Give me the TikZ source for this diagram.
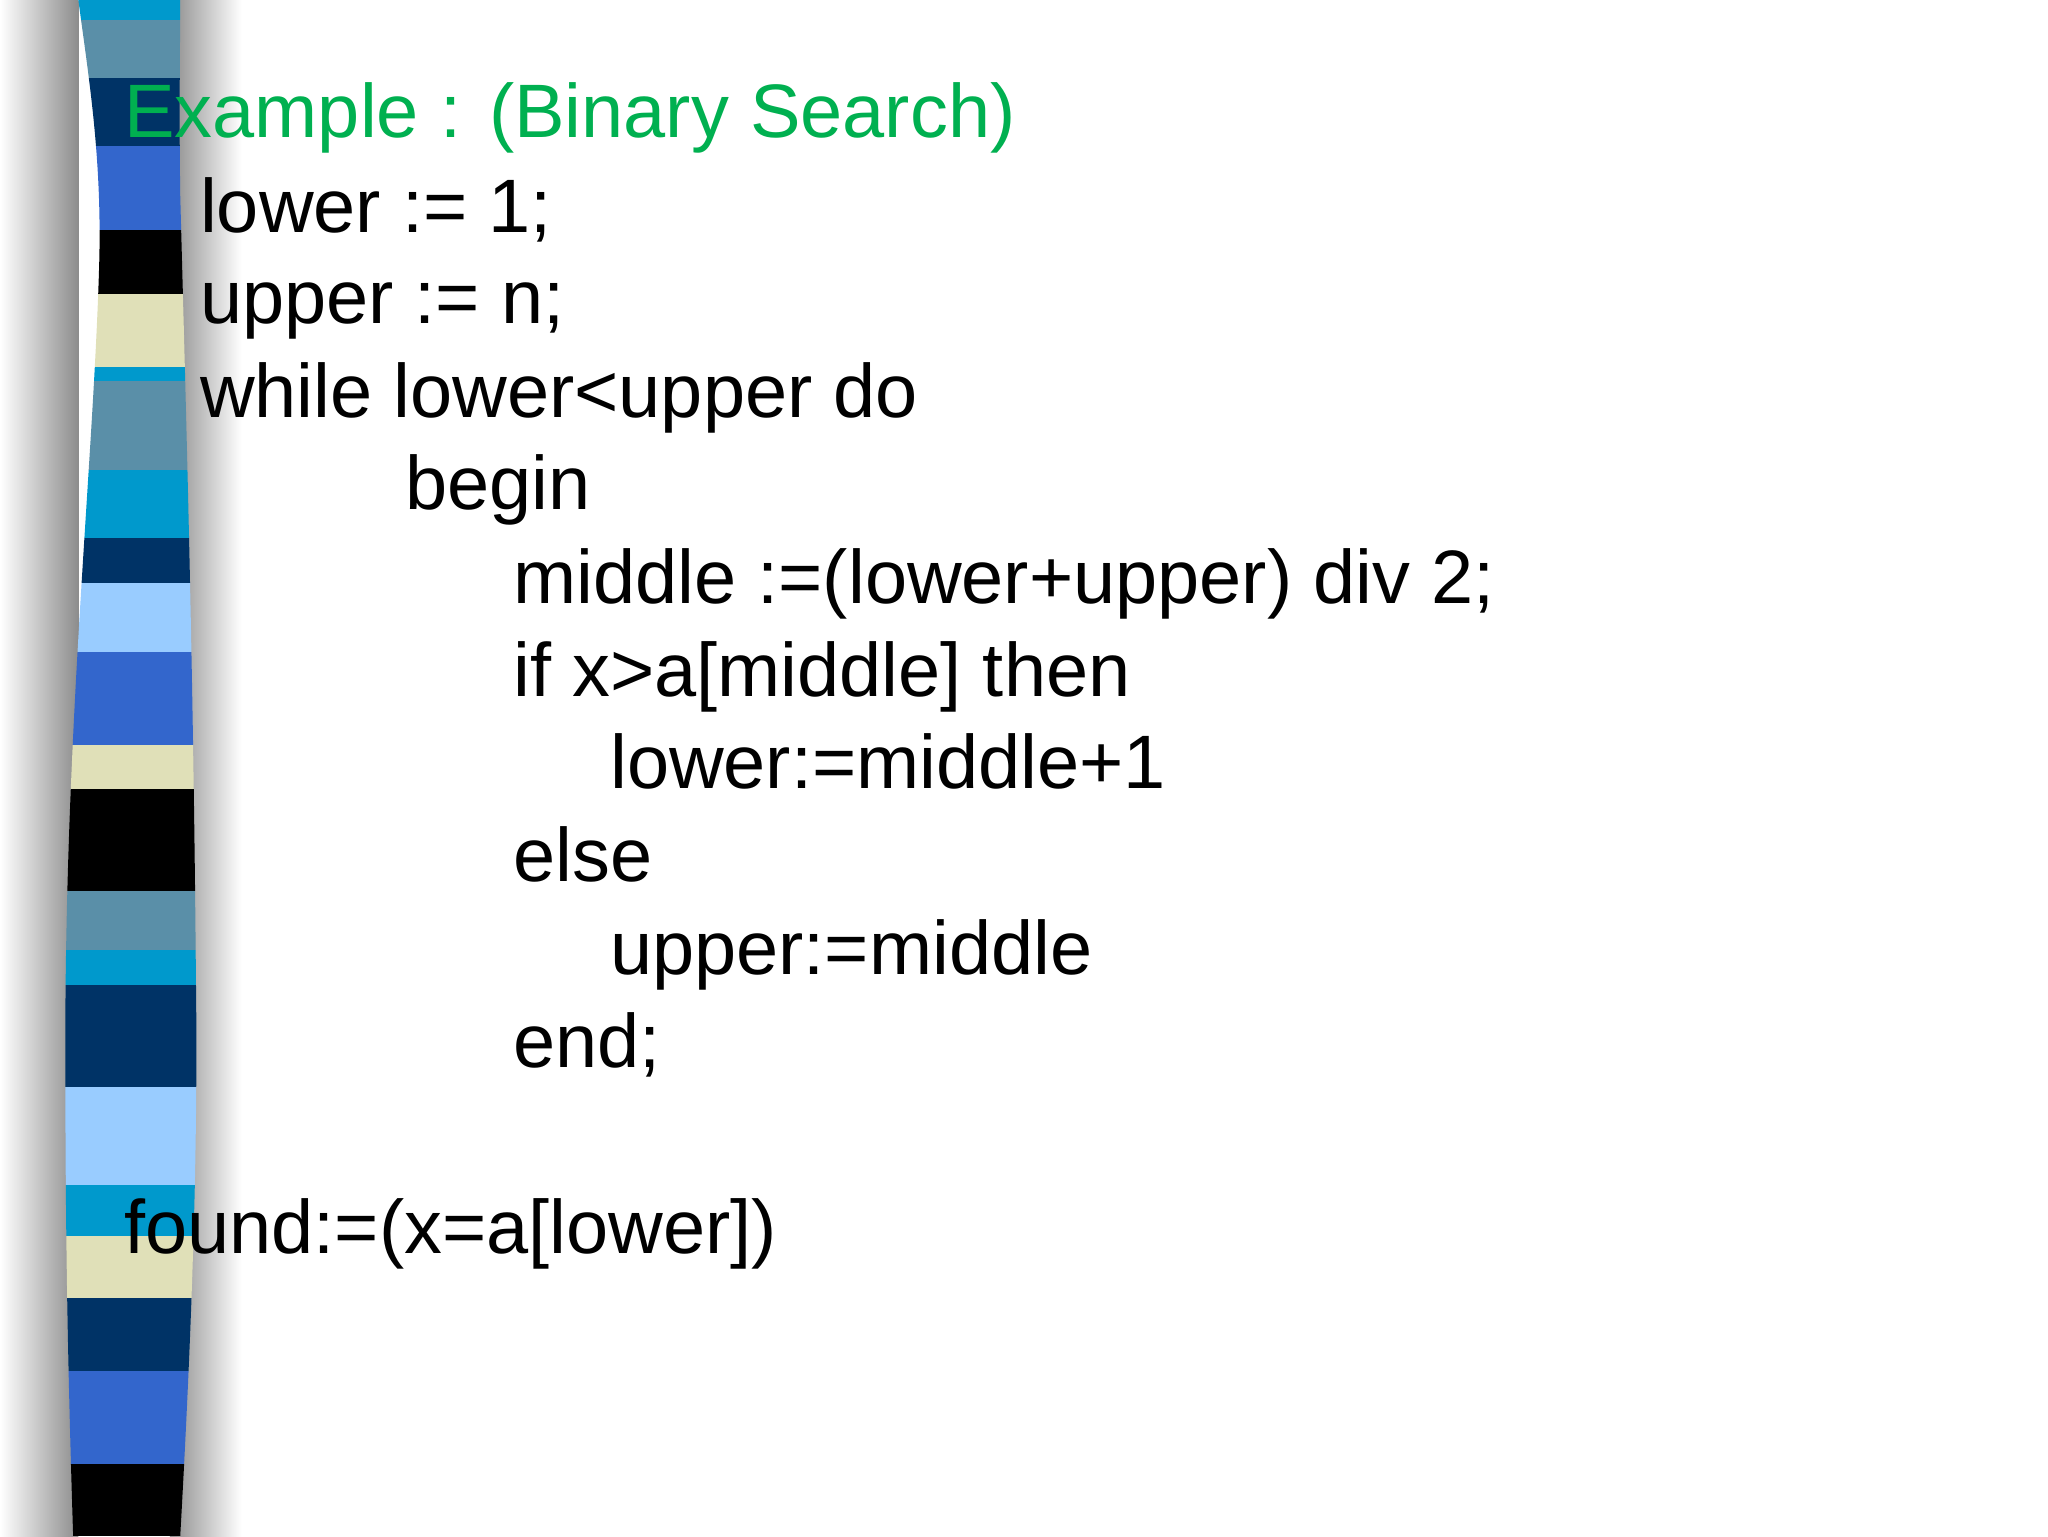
\documentclass[tikz,border=0pt]{standalone}
\usepackage{fontspec}
\setmainfont{Liberation Sans}
\definecolor{cyanb}{HTML}{0099CC}
\definecolor{steel}{HTML}{5A8FA8}
\definecolor{navy}{HTML}{003366}
\definecolor{royal}{HTML}{3366CC}
\definecolor{beige}{HTML}{E0E0B8}
\definecolor{lightb}{HTML}{99CCFF}
\definecolor{titlegreen}{HTML}{00B050}
\begin{document}
\begin{tikzpicture}[x=1pt,y=-1pt,
  code/.style={anchor=base west,inner sep=0pt,font=\fontsize{58}{70}\selectfont}]
\useasboundingbox (0,0) rectangle (1568,1176);
\fill[white] (0,0) rectangle (1568,1176);
% shadows
\shade[left color=white,right color=black!45] (0,0) rectangle (60,1176);
\shade[left color=black!45,right color=white] (130,0) rectangle (185,1176);
\begin{scope}
\clip (60,0) .. controls (68,60) and (78,120) .. (76,200)
  .. controls (72,350) and (50,550) .. (50,800)
  .. controls (50,950) and (52,1050) .. (56,1176)
  -- (138,1176) .. controls (145,1050) and (152,900) .. (150,750)
  .. controls (148,500) and (142,300) .. (138,150)
  .. controls (137,80) and (138,30) .. (138,0) -- cycle;
\foreach \a/\b/\c in {0/15/cyanb,15/60/steel,60/112/navy,112/176/royal,176/225/black,225/281/beige,281/292/cyanb,292/360/steel,360/412/cyanb,412/446/navy,446/499/lightb,499/570/royal,570/604/beige,604/682/black,682/727/steel,727/754/cyanb,754/832/navy,832/907/lightb,907/946/cyanb,946/994/beige,994/1050/navy,1050/1121/royal,1121/1176/black}
  \fill[\c] (40,\a) rectangle (160,\b);
\end{scope}
\node[code,text=titlegreen] (t) at (95,105) {Example : (Binary Search)};
\node[code] (l1) at (153,178) {lower := 1;};
\node[code] (l2) at (153,248) {upper := n;};
\node[code] (l3) at (153,320) {while lower<upper do};
\node[code] (l4) at (310,390) {begin};
\node[code] (l5) at (393,462) {middle :=(lower+upper) div 2;};
\node[code] (l6) at (393,533) {if x>a[middle] then};
\node[code] (l7) at (467,604) {lower:=middle+1};
\node[code] (l8) at (393,675) {else};
\node[code] (l9) at (467,746) {upper:=middle};
\node[code] (l10) at (393,817) {end;};
\node[code] (l11) at (95,960) {found:=(x=a[lower])};
\end{tikzpicture}
\end{document}
